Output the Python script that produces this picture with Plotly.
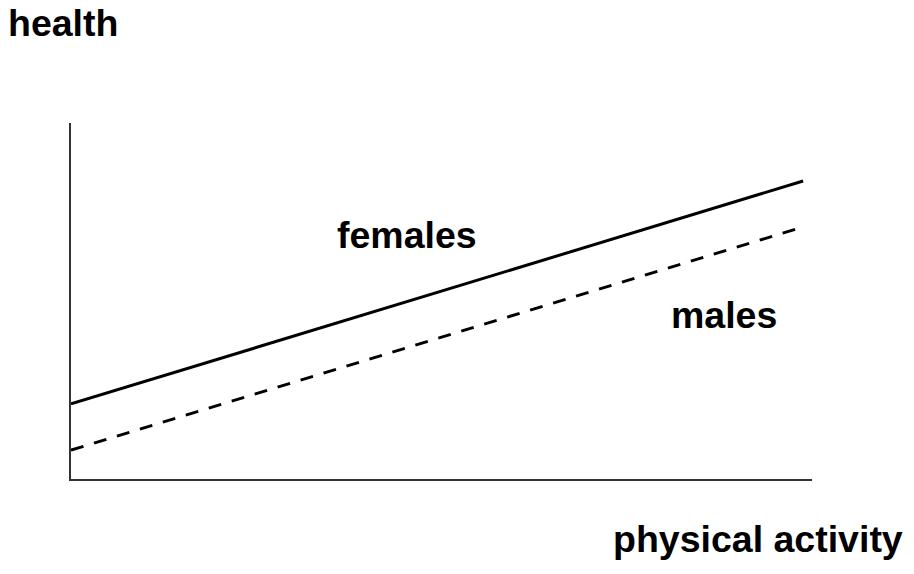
import plotly.graph_objects as go

# activity levels (arbitrary units) and health scores
activity = [0, 98.8]
females = [21.1, 83.7]
males = [8.1, 70.8]

FONT = "Liberation Sans, Arial, sans-serif"

fig = go.Figure()
fig.add_trace(
    go.Scatter(x=activity, y=females, mode="lines", name="females",
               line=dict(color="#000000", width=3))
)
fig.add_trace(
    go.Scatter(x=activity, y=males, mode="lines", name="males",
               line=dict(color="#000000", width=3, dash="13px,11px"))
)

label_font = dict(family=FONT, size=37.5, color="#000000")
annotations = [
    dict(x=45.3, y=68.5, xref="x", yref="y", text="<b>females</b>", showarrow=False,
         xanchor="center", yanchor="middle", font=label_font),
    dict(x=88.1, y=46.1, xref="x", yref="y", text="<b>males</b>", showarrow=False,
         xanchor="center", yanchor="middle", font=label_font),
    dict(x=-0.0865, y=1.281, xref="paper", yref="paper", text="<b>health</b>", showarrow=False,
         xanchor="left", yanchor="middle", font=label_font, borderpad=0),
    dict(x=1.1255, y=-0.1685, xref="paper", yref="paper", text="<b>physical activity</b>",
         showarrow=False, xanchor="right", yanchor="middle", font=label_font),
]

# page body has an 8px margin, so the figure is a bit smaller than the window
fig.update_layout(
    width=906,
    height=566,
    margin=dict(l=63, r=102, t=115, b=95),
    paper_bgcolor="#ffffff",
    plot_bgcolor="#ffffff",
    showlegend=False,
    annotations=annotations,
)
fig.update_xaxes(range=[0, 100], showline=True, linecolor="#333333", linewidth=2,
                 showgrid=False, zeroline=False, showticklabels=False, ticks="")
fig.update_yaxes(range=[0, 100], showline=True, linecolor="#333333", linewidth=2,
                 showgrid=False, zeroline=False, showticklabels=False, ticks="")

fig.write_html("out.html")
